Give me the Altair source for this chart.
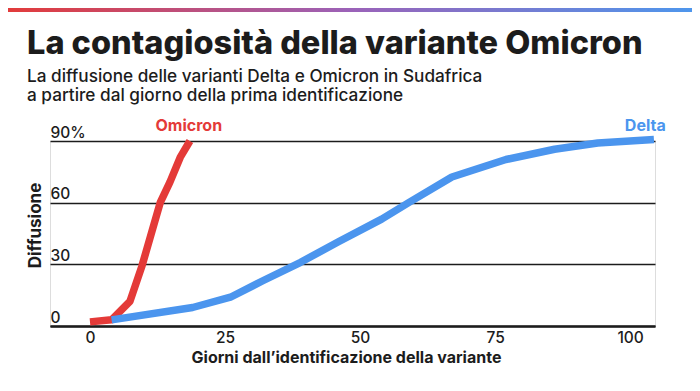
import altair as alt
import pandas as pd

# ---- data ----
omicron_days = [0, 4, 7.4, 9.6, 13, 14.8, 16.7, 18.5]
omicron_vals = [2, 3, 12, 29, 60, 70, 82, 90]
delta_days = [4, 19, 26, 32, 39, 46, 54, 59, 67, 77, 86, 94, 104.4]
delta_vals = [3, 9, 14, 22, 31, 41, 52, 60, 72.5, 81, 86, 89, 90.7]

label_names = ["Omicron", "Delta"]
label_days = [18.3, 102.8]
label_vals = [97.5, 97.5]

x_ticks = [0, 25, 50, 75, 100]
y_ticks = [0, 30, 60, 90]

title_text = "La contagiosità della variante Omicron"
subtitle_lines = ["La diffusione delle varianti Delta e Omicron in Sudafrica",
                  "a partire dal giorno della prima identificazione"]

RED = "#e43a38"
BLUE = "#4b95ee"
RED_LABEL = "#dd4650"
BLUE_LABEL = "#5a91e2"
INK = "#1c1c1c"
FONT = "Inter"

rows = []
for d, v in zip(omicron_days, omicron_vals):
    rows.append({"variante": "Omicron", "giorni": d, "diffusione": v})
for d, v in zip(delta_days, delta_vals):
    rows.append({"variante": "Delta", "giorni": d, "diffusione": v})
df = pd.DataFrame(rows)

labels = pd.DataFrame({"variante": label_names, "giorni": label_days,
                       "diffusione": label_vals})

xscale = alt.Scale(domain=[-7.4, 104.6], nice=False, zero=False)
yscale = alt.Scale(domain=[0, 90], nice=False)
cscale = alt.Scale(domain=["Omicron", "Delta"], range=[RED, BLUE])
lscale = alt.Scale(domain=["Omicron", "Delta"], range=[RED_LABEL, BLUE_LABEL])

x_enc = alt.X("giorni:Q", scale=xscale, axis=alt.Axis(
    values=x_ticks, title="Giorni dall\u2019identificazione della variante",
    grid=False, domain=True, domainColor=INK, domainWidth=2.5,
    ticks=False, labelPadding=4, labelFontSize=15.5, labelFont=FONT,
    labelFontWeight=500, labelColor=INK,
    titleFont=FONT, titleFontSize=16, titleFontWeight="bold", titleColor=INK,
    titleX=296, titleY=31, titleBaseline="middle"))

y_enc = alt.Y("diffusione:Q", scale=yscale, axis=alt.Axis(
    values=y_ticks, title="Diffusione",
    labelExpr="datum.value == 90 ? '90%' : datum.label",
    grid=True, gridColor=INK, gridWidth=1.5,
    domain=False, ticks=False, tickSize=0, labelPadding=0,
    labelAlign="left", labelBaseline="alphabetic", labelOffset=-4,
    labelFontSize=15.5, labelFont=FONT, labelFontWeight=500, labelColor=INK,
    titleFont=FONT, titleFontSize=17, titleFontWeight="bold", titleColor=INK,
    titleAngle=-90, titleX=-15, titleY=84, titleBaseline="middle", titleAlign="center"))

lines = alt.Chart(df).mark_line(strokeWidth=7.5, strokeCap="butt", strokeJoin="round").encode(
    x=x_enc, y=y_enc,
    color=alt.Color("variante:N", scale=cscale, legend=None),
    order="giorni:Q",
)

text_lab = alt.Chart(labels).mark_text(
    font=FONT, fontSize=16, fontWeight="bold", baseline="middle", align="center"
).encode(
    x=alt.X("giorni:Q", scale=xscale), y=alt.Y("diffusione:Q", scale=yscale),
    text="variante:N",
    color=alt.Color("variante:N", scale=lscale, legend=None),
)

bar = alt.Chart(pd.DataFrame({"a": [0]})).mark_rect(
    color=alt.LinearGradient(gradient="linear", x1=0, x2=1, y1=0, y2=0,
                             stops=[alt.GradientStop(color="#e23b3b", offset=0),
                                    alt.GradientStop(color="#9b62b8", offset=0.5),
                                    alt.GradientStop(color="#4e96ec", offset=1)])
).encode(x=alt.value(-42), x2=alt.value(642), y=alt.value(-133), y2=alt.value(-129))

title_mark = alt.Chart(pd.DataFrame({"t": [title_text]})).mark_text(
    font=FONT, fontSize=32.5, fontWeight=800, color=INK, align="left", baseline="alphabetic"
).encode(text="t:N", x=alt.value(-23), y=alt.value(-87))

sub1 = alt.Chart(pd.DataFrame({"t": [subtitle_lines[0]]})).mark_text(
    font=FONT, fontSize=17.2, fontWeight=500, color=INK, align="left", baseline="alphabetic"
).encode(text="t:N", x=alt.value(-23), y=alt.value(-59))

sub2 = alt.Chart(pd.DataFrame({"t": [subtitle_lines[1]]})).mark_text(
    font=FONT, fontSize=17.2, fontWeight=500, color=INK, align="left", baseline="alphabetic"
).encode(text="t:N", x=alt.value(-23), y=alt.value(-40))

chart = alt.layer(bar, title_mark, sub1, sub2, lines, text_lab).properties(
    width=605, height=185,
    padding={"left": 42, "top": 133, "right": 37, "bottom": 50},
    autosize=alt.AutoSizeParams(type="none"),
).configure_view(stroke=None).configure(background="white")

chart.save("out.html", embed_options={"renderer": "svg", "actions": False})
